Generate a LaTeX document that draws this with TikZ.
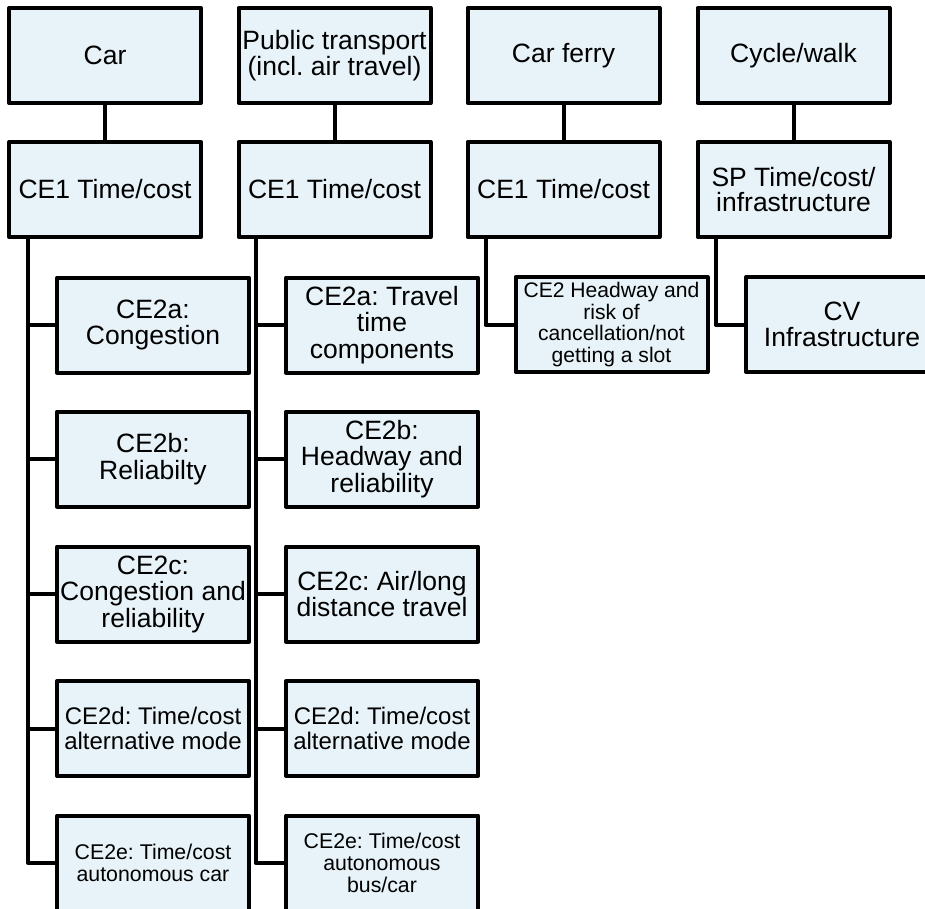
\documentclass[tikz,border=0pt]{standalone}
\usepackage{fontspec}
\setmainfont{Liberation Sans}
\frenchspacing
\usetikzlibrary{calc}
\definecolor{boxfill}{HTML}{E7F3F8}
\tikzset{
  box/.style={draw=black, fill=boxfill, line width=4pt, line join=round,
    minimum width=192pt, minimum height=95pt, inner sep=0pt, align=center,
    font=\fontsize{26.5}{26.5}\selectfont},
  midtext/.style={font=\fontsize{24}{25}\selectfont},
  smalltext/.style={font=\fontsize{21.3}{22}\selectfont},
  link/.style={line width=4pt, line join=round},
}
\begin{document}
\begin{tikzpicture}[x=1pt,y=-1pt]
\clip (0,0) rectangle (925,908);

% top level: modes
\node[box] (car)   at (105,55.5)   {Car};
\node[box, font=\fontsize{26.5}{24}\selectfont] (pt) at (334.5,55.5) {Public transport\\(incl. air travel)};
\node[box] (ferry) at (563.5,55.5) {Car ferry};
\node[box] (cycle) at (793.5,55.5) {Cycle/walk};

% second level
\node[box] (carce)   at (105,189.5)   {CE1 Time/cost};
\node[box] (ptce)    at (334.5,189.5) {CE1 Time/cost};
\node[box] (ferryce) at (563.5,189.5) {CE1 Time/cost};
\node[box, font=\fontsize{26.5}{25}\selectfont] (cyclesp) at (793.5,189.5) {SP Time/cost/\\infrastructure};

\foreach \a/\b in {car/carce, pt/ptce, ferry/ferryce, cycle/cyclesp}
  \draw[link] (\a) -- (\b);

% car experiments
\node[box] (car2a) at (153,325)   {CE2a:\\Congestion};
\node[box] (car2b) at (153,459)   {CE2b:\\Reliabilty};
\node[box] (car2c) at (153,594)   {CE2c:\\Congestion and\\reliability};
\node[box, midtext] (car2d) at (153,728.5) {CE2d: Time/cost\\alternative mode};
\node[box, smalltext] (car2e) at (153,863) {CE2e: Time/cost\\autonomous car};

% public transport experiments
\node[box] (pt2a) at (382,325)   {CE2a: Travel\\time\\components};
\node[box] (pt2b) at (382,459)   {CE2b:\\Headway and\\reliability};
\node[box] (pt2c) at (382,594)   {CE2c: Air/long\\distance travel};
\node[box, midtext] (pt2d) at (382,728.5) {CE2d: Time/cost\\alternative mode};
\node[box, smalltext] (pt2e) at (382,863) {CE2e: Time/cost\\autonomous\\bus/car};

% car ferry and cycle/walk experiments
\node[box, font=\fontsize{21.1}{21.7}\selectfont] (ferry2) at (611.5,324.5)
  {CE2 Headway and\\risk of\\cancellation/not\\getting a slot};
\node[box] (cyclecv) at (842,324.5) {CV\\Infrastructure};

% trunks
\coordinate (cart)   at ($(carce.south west)+(21,0)$);
\coordinate (ptt)    at ($(ptce.south west)+(19,0)$);
\coordinate (ferryt) at ($(ferryce.south west)+(20,0)$);
\coordinate (cyclet) at ($(cyclesp.south west)+(20,0)$);

\foreach \c in {car2a, car2b, car2c, car2d, car2e}
  \draw[link] (cart) |- (\c.west);
\foreach \c in {pt2a, pt2b, pt2c, pt2d, pt2e}
  \draw[link] (ptt) |- (\c.west);
\draw[link] (ferryt) |- (ferry2.west);
\draw[link] (cyclet) |- (cyclecv.west);
\end{tikzpicture}
\end{document}
